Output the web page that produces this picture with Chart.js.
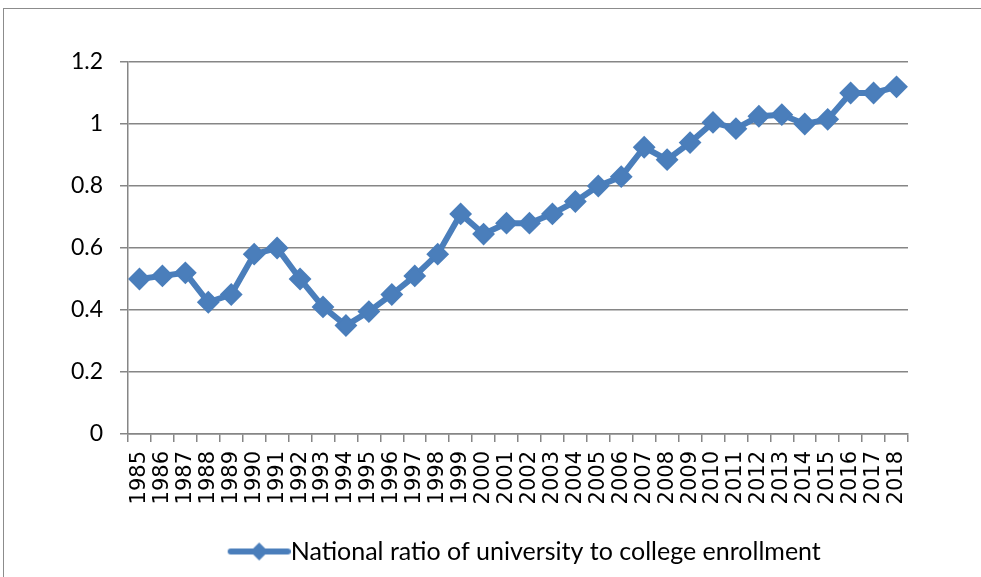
<!DOCTYPE html>
<html>
<head>
<meta charset="utf-8">
<script src="https://cdn.jsdelivr.net/npm/chart.js@4.4.1/dist/chart.umd.min.js"></script>
<style>
  html, body { margin: 0; padding: 0; background: #fff; overflow: hidden; }
  #frame { position: absolute; left: 3px; top: 8px; width: 1000px; height: 600px; border: 1px solid #8c8c8c; box-sizing: border-box; }
  #wrap { position: absolute; left: 0; top: 0; width: 981px; height: 577px; }
</style>
</head>
<body>
<div id="frame"></div>
<div id="wrap"><canvas id="chart"></canvas></div>
<script>
// ── DATA ──────────────────────────────────────────────────────────
const years = ['1985', '1986', '1987', '1988', '1989', '1990', '1991', '1992', '1993', '1994',
  '1995', '1996', '1997', '1998', '1999', '2000', '2001', '2002', '2003', '2004',
  '2005', '2006', '2007', '2008', '2009', '2010', '2011', '2012', '2013', '2014',
  '2015', '2016', '2017', '2018'];
const ratio = [0.50, 0.51, 0.52, 0.425, 0.45, 0.58, 0.60, 0.50, 0.41, 0.35,
  0.395, 0.45, 0.51, 0.58, 0.71, 0.645, 0.68, 0.68, 0.71, 0.75,
  0.80, 0.83, 0.925, 0.885, 0.94, 1.005, 0.985, 1.025, 1.03, 1.0,
  1.015, 1.10, 1.10, 1.12];
const yLabels = ['0', '0.2', '0.4', '0.6', '0.8', '1', '1.2'];
const seriesName = 'National ratio of university to college enrollment';

const BLUE = '#4a7ebb';
const GRID = '#868686';
const LEGEND_FONT = 25;

// legend marker: line with a diamond, drawn into a small canvas
function legendMarker() {
  const w = 63 + LEGEND_FONT, h = 24;
  const c = document.createElement('canvas');
  c.width = w; c.height = h;
  const ctx = c.getContext('2d');
  ctx.strokeStyle = BLUE;
  ctx.fillStyle = BLUE;
  ctx.lineWidth = 6;
  ctx.lineCap = 'round';
  ctx.beginPath();
  ctx.moveTo(LEGEND_FONT + 3, h / 2);
  ctx.lineTo(w - 3, h / 2);
  ctx.stroke();
  const cx = LEGEND_FONT + 31.5, cy = h / 2, r = 9;
  ctx.beginPath();
  ctx.moveTo(cx - r, cy); ctx.lineTo(cx, cy - r); ctx.lineTo(cx + r, cy); ctx.lineTo(cx, cy + r);
  ctx.closePath();
  ctx.fill();
  return c;
}

new Chart(document.getElementById('chart'), {
  type: 'line',
  data: {
    labels: years,
    datasets: [{
      label: seriesName,
      data: ratio,
      borderColor: BLUE,
      backgroundColor: BLUE,
      borderWidth: 6,
      pointStyle: 'rectRot',
      pointRadius: 10,
      pointBorderWidth: 2,
      pointBackgroundColor: BLUE,
      pointBorderColor: BLUE,
      tension: 0,
      fill: false,
    }]
  },
  options: {
    responsive: true,
    maintainAspectRatio: false,
    animation: false,
    layout: { padding: { left: 0, top: 62, right: 73, bottom: 3 } },
    plugins: {
      tooltip: { enabled: false },
      legend: {
        position: 'bottom',
        fullSize: false,
        labels: {
          usePointStyle: true,
          pointStyleWidth: 63,
          padding: 10,
          color: '#000',
          font: { family: 'Lato', size: LEGEND_FONT },
          generateLabels: chart => [{
            text: seriesName,
            pointStyle: legendMarker(),
            fillStyle: BLUE,
            strokeStyle: BLUE,
            lineWidth: 0,
            datasetIndex: 0,
          }],
        },
      },
    },
    scales: {
      x: {
        offset: true,
        grid: { offset: true, drawOnChartArea: false, tickLength: 8, color: GRID, lineWidth: 1.5 },
        border: { color: GRID, width: 1.5 },
        ticks: {
          autoSkip: false, minRotation: 90, maxRotation: 90, padding: 9,
          color: '#000', font: { family: "'DejaVu Sans'", size: 21 },
        },
        afterFit: s => { s.height = 95; },
      },
      y: {
        min: 0, max: 1.2,
        grid: { tickLength: 8, color: GRID, lineWidth: 1.5 },
        border: { color: GRID, width: 1.5 },
        ticks: {
          stepSize: 0.2, padding: 17,
          color: '#000', font: { family: 'Lato', size: 23 },
          callback: (v, i) => yLabels[i],
        },
        afterFit: s => { s.width = 128; },
      },
    },
  },
});
</script>
</body>
</html>
